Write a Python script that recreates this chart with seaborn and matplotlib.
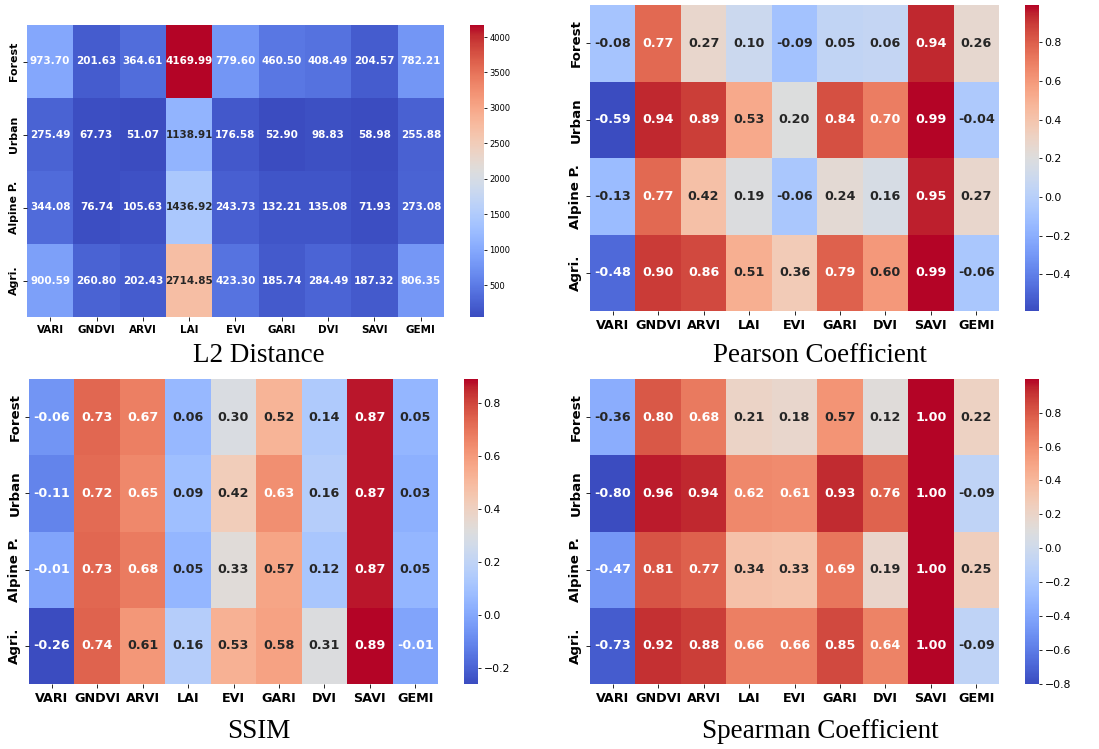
import matplotlib
matplotlib.use("Agg")
import matplotlib.pyplot as plt
import seaborn as sns
import pandas as pd
import numpy as np

indices = ["VARI", "GNDVI", "ARVI", "LAI", "EVI", "GARI", "DVI", "SAVI", "GEMI"]
regions = ["Forest", "Urban", "Alpine P.", "Agri."]

l2_forest = [973.70, 201.63, 364.61, 4169.99, 779.60, 460.50, 408.49, 204.57, 782.21]
l2_urban = [275.49, 67.73, 51.07, 1138.91, 176.58, 52.90, 98.83, 58.98, 255.88]
l2_alpine = [344.08, 76.74, 105.63, 1436.92, 243.73, 132.21, 135.08, 71.93, 273.08]
l2_agri = [900.59, 260.80, 202.43, 2714.85, 423.30, 185.74, 284.49, 187.32, 806.35]

pearson_forest = [-0.08, 0.77, 0.27, 0.10, -0.09, 0.05, 0.06, 0.94, 0.26]
pearson_urban = [-0.59, 0.94, 0.89, 0.53, 0.20, 0.84, 0.70, 0.993, -0.04]
pearson_alpine = [-0.13, 0.77, 0.42, 0.19, -0.06, 0.24, 0.16, 0.95, 0.27]
pearson_agri = [-0.48, 0.90, 0.86, 0.51, 0.36, 0.79, 0.60, 0.99, -0.06]

ssim_forest = [-0.06, 0.73, 0.67, 0.06, 0.30, 0.52, 0.14, 0.87, 0.05]
ssim_urban = [-0.11, 0.72, 0.65, 0.09, 0.42, 0.63, 0.16, 0.87, 0.03]
ssim_alpine = [-0.01, 0.73, 0.68, 0.05, 0.33, 0.57, 0.12, 0.87, 0.05]
ssim_agri = [-0.26, 0.74, 0.61, 0.16, 0.53, 0.58, 0.31, 0.89, -0.01]

spearman_forest = [-0.36, 0.80, 0.68, 0.21, 0.18, 0.57, 0.12, 0.998, 0.22]
spearman_urban = [-0.80, 0.96, 0.94, 0.62, 0.61, 0.93, 0.76, 0.998, -0.09]
spearman_alpine = [-0.47, 0.81, 0.77, 0.34, 0.33, 0.69, 0.19, 0.998, 0.25]
spearman_agri = [-0.73, 0.92, 0.88, 0.66, 0.66, 0.85, 0.64, 0.998, -0.09]

titles = ["L2 Distance", "Pearson Coefficient", "SSIM", "Spearman Coefficient"]

tables = [
    [l2_forest, l2_urban, l2_alpine, l2_agri],
    [pearson_forest, pearson_urban, pearson_alpine, pearson_agri],
    [ssim_forest, ssim_urban, ssim_alpine, ssim_agri],
    [spearman_forest, spearman_urban, spearman_alpine, spearman_agri],
]

W, H = 1099, 749
fig = plt.figure(figsize=(W / 100, H / 100), dpi=100)


def rect(x0, y0, x1, y1):
    return [x0 / W, 1 - y1 / H, (x1 - x0) / W, (y1 - y0) / H]


layout = [
    # heatmap rect, colorbar rect, title center, text size, colorbar label size
    ((27, 25, 444, 317), (470, 25, 484, 317), (259, 356), 7.5, 6.0),
    ((590, 5, 999, 311), (1025, 5, 1039, 311), (820, 356), 9.2, 7.8),
    ((29, 379, 438, 684), (464, 379, 478, 684), (259, 731), 9.2, 7.8),
    ((590, 379, 999, 684), (1025, 379, 1039, 684), (820, 731), 9.2, 7.8),
]

for rows, title, (hr, cr, tc, fs, cfs) in zip(tables, titles, layout):
    df = pd.DataFrame(rows, index=regions, columns=indices)
    ax = fig.add_axes(rect(*hr))
    cax = fig.add_axes(rect(*cr))
    sns.heatmap(df, ax=ax, cbar_ax=cax, cmap="coolwarm", annot=True, fmt=".2f",
                annot_kws={"weight": "bold", "size": fs})
    ax.set_xticklabels(ax.get_xticklabels(), fontsize=fs, fontweight="bold", rotation=0)
    ax.set_yticklabels(ax.get_yticklabels(), fontsize=fs * 1.05, fontweight="bold",
                       rotation=90, va="center")
    ax.tick_params(length=3, width=0.6, pad=2.5)
    cax.tick_params(labelsize=cfs, length=2.5, width=0.6, pad=1.5)
    fig.text(tc[0] / W, 1 - tc[1] / H, title, ha="center", va="center",
             family="Liberation Serif", fontsize=19.5)

fig.savefig("out.png", dpi=100)
